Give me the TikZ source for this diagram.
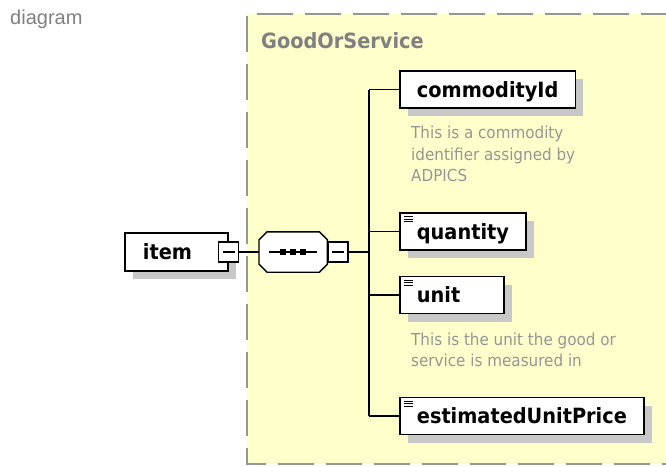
\documentclass[tikz,border=0pt]{standalone}
\usepackage{fontspec}
\setmainfont{DejaVu Sans}
\newfontfamily\lblfont[FakeStretch=0.92]{DejaVu Sans}
\newfontfamily\capfont{Liberation Sans}
\usetikzlibrary{positioning, shadows}
\definecolor{grpyellow}{RGB}{255, 255, 204}
\definecolor{grpgray}{RGB}{128, 128, 128}
\definecolor{docgray}{RGB}{150, 150, 150}
\definecolor{shadowgray}{RGB}{200, 200, 200}
\definecolor{dashgray}{RGB}{150, 150, 150}

\begin{document}
\begin{tikzpicture}[x=1pt, y=-1pt, every node/.style={inner sep=0pt}]
    \tikzstyle{group} = [fill=grpyellow, draw=none]
    \tikzstyle{grpline} = [draw=dashgray, line width=2pt, dash pattern=on 36pt off 12pt]
    \tikzstyle{elem} = [draw=black, line width=1.8pt, fill=white, minimum height=37pt, inner xsep=17pt, text height=15pt, text depth=0pt, font=\lblfont\bfseries\fontsize{21}{24}\selectfont, drop shadow={shadow xshift=8pt, shadow yshift=-8pt, fill=shadowgray, opacity=1}]
    \tikzstyle{typed} = [elem, path picture={
        \draw[line width=0.9pt] ([xshift=4pt, yshift=-3.5pt]path picture bounding box.north west) -- ++(9pt,0pt);
        \draw[line width=0.9pt] ([xshift=4pt, yshift=-6pt]path picture bounding box.north west) -- ++(9pt,0pt);
        \draw[line width=0.9pt] ([xshift=4pt, yshift=-8.5pt]path picture bounding box.north west) -- ++(9pt,0pt);}]
    \tikzstyle{minus} = [draw=black, line width=1.3pt, fill=white, minimum size=20pt]
    \tikzstyle{seqline} = [draw=black, line width=1.4pt, fill=white]
    \tikzstyle{conn} = [draw=black, line width=1.8pt]
    \tikzstyle{doc} = [align=left, text=docgray, font=\lblfont\fontsize{16.5}{21.5}\selectfont]

    \useasboundingbox (0,0) rectangle (666,466);

    % Title and group
    \node (dlbl) [anchor=base west, text=grpgray, font=\capfont\fontsize{20}{24}\selectfont] at (10,24) {diagram};
    \node (grp) [group, anchor=north west, minimum width=430pt, minimum height=450pt] at (247,14) {};
    \draw [grpline] (grp.north east) -- (grp.north west) -- (grp.south west) -- (grp.south east);
    \node (grplbl) [anchor=base west, text=grpgray, font=\lblfont\bfseries\fontsize{21}{24}\selectfont] at (261,48) {GoodOrService};

    % Root element
    \node (item) [elem, anchor=west, text width=67pt, align=left, inner xsep=18pt, minimum height=38pt] at (124,252) {item};
    \node (itemm) [minus] at (item.east) {};
    \draw [line width=1.2pt] ([xshift=-6pt]itemm.center) -- ([xshift=6pt]itemm.center);

    % Sequence compositor
    \node (seq) [anchor=west, minimum width=68pt, minimum height=40pt] at (259,252) {};
    \fill [shadowgray, shift={(8pt,-8pt)}] ([xshift=8pt]seq.north west) -- ([xshift=-8pt]seq.north east) -- ([yshift=-8pt]seq.north east) -- ([yshift=8pt]seq.south east) -- ([xshift=-8pt]seq.south east) -- ([xshift=8pt]seq.south west) -- ([yshift=8pt]seq.south west) -- ([yshift=-8pt]seq.north west) -- cycle;
    \draw [seqline] ([xshift=8pt]seq.north west) -- ([xshift=-8pt]seq.north east) -- ([yshift=-8pt]seq.north east) -- ([yshift=8pt]seq.south east) -- ([xshift=-8pt]seq.south east) -- ([xshift=8pt]seq.south west) -- ([yshift=8pt]seq.south west) -- ([yshift=-8pt]seq.north west) -- cycle;
    \draw [line width=1.2pt] ([xshift=-24pt]seq.center) -- ([xshift=24pt]seq.center);
    \fill ([xshift=-13pt, yshift=-3pt]seq.center) rectangle ([xshift=-7pt, yshift=3pt]seq.center);
    \fill ([xshift=-3pt, yshift=-3pt]seq.center) rectangle ([xshift=3pt, yshift=3pt]seq.center);
    \fill ([xshift=7pt, yshift=-3pt]seq.center) rectangle ([xshift=13pt, yshift=3pt]seq.center);
    \node (seqm) [minus, anchor=west] at (seq.east) {};
    \draw [line width=1.2pt] ([xshift=-6pt]seqm.center) -- ([xshift=6pt]seqm.center);
    \coordinate (bar) at (369,252);

    % Children
    \node (cid) [elem, anchor=west] at (399,89.5) {commodityId};
    \node (ciddoc) [doc, anchor=north west] at ([xshift=12pt, yshift=-17pt]cid.south west) {This is a commodity\\identifier assigned by\\ADPICS};
    \node (qty) [typed, anchor=west] at (399,231.5) {quantity};
    \node (unit) [typed, anchor=west, text width=70pt, align=left] at (399,295) {unit};
    \node (unitdoc) [doc, anchor=north west] at ([xshift=12pt, yshift=-18pt]unit.south west) {This is the unit the good or\\service is measured in};
    \node (eup) [typed, anchor=west] at (399,416) {estimatedUnitPrice};

    % Connectors
    \draw [conn] (itemm.east) -- (seq.west);
    \draw [conn] (seqm.east) -- (bar);
    \draw [conn] (bar |- cid.west) -- (bar |- eup.west);
    \draw [conn] (bar |- cid.west) -- (cid.west);
    \draw [conn] (bar |- qty.west) -- (qty.west);
    \draw [conn] (bar |- unit.west) -- (unit.west);
    \draw [conn] (bar |- eup.west) -- (eup.west);
\end{tikzpicture}
\end{document}
